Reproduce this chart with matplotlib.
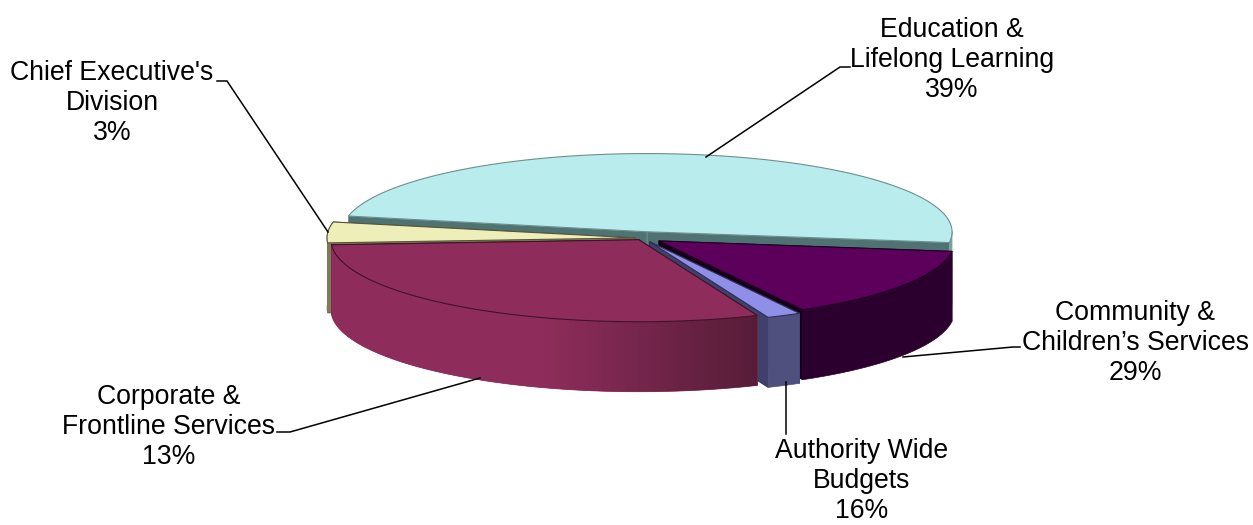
import numpy as np
import matplotlib
matplotlib.use("Agg")
import matplotlib.pyplot as plt
from matplotlib.patches import Polygon

# Sweep of each drawn slice (percent of the circle), clockwise from the start angle
slice_names = ["Education", "Community", "Authority", "Corporate", "Chief"]
slice_sweep = [48.9, 14.8, 1.8, 30.3, 4.2]
slice_explode = [0.08, 0.0626, 0.05, 0.025, 0.026]
slice_radius = [0.99, 0.96, 1.0, 1.0, 1.0]

# Printed captions
label_lines = [
    "Education &\nLifelong Learning\n39%",
    "Community &\nChildren\u2019s Services\n29%",
    "Authority Wide\nBudgets\n16%",
    "Corporate &\nFrontline Services\n13%",
    "Chief Executive's\nDivision\n3%",
]
label_xy = [(952, 60), (1135, 343), (862, 481), (169, 427), (112, 103)]
leaders = [
    [(706, 157), (840, 67), (850, 67)],
    [(903, 357), (1013, 347), (1020, 347)],
    [(786, 382), (786, 434)],
    [(480, 378), (290, 432), (277, 432)],
    [(328, 232), (227, 81), (217, 81)],
]

top_colors = ["#b9ecec", "#5c005c", "#8f8fe8", "#8e2d5b", "#eeeeb8"]
wall_colors = ["#7f9f9f", "#2b002e", "#50507f", "#8e2d5b", "#7d7d55"]
face_colors = ["#4f7272", "#150018", "#40406c", "#5a1e3a", "#7d7d55"]
edge_colors = ["#6f8f8f", "#1f0022", "#2f2f55", "#40122a", "#55553a"]

START = 168.4
CX, CY = 643.0, 238.0
A, B_BACK, B_FRONT = 308.0, 79.0, 82.0
DEPTH = 70.0


def project(deg, radius=1.0):
    """Map a circle angle to flat pie coordinates (pixels, y downward)."""
    t = np.radians(deg)
    s = np.sin(t) * radius
    return A * np.cos(t) * radius, -np.where(s > 0, B_BACK, B_FRONT) * s


fig = plt.figure(figsize=(12.53, 5.25), dpi=100, facecolor="white")
ax = fig.add_axes([0, 0, 1, 1])

# Clockwise angle ranges for each slice
bounds = START - np.cumsum([0] + slice_sweep) * 3.6
spans = {n: (bounds[i], bounds[i + 1], i) for i, n in enumerate(slice_names)}


def draw_slice(name, layer):
    a0, a1, i = spans[name]
    mid = np.radians((a0 + a1) / 2)
    ox = CX + slice_explode[i] * A * np.cos(mid)
    oy = CY - slice_explode[i] * (B_BACK if np.sin(mid) > 0 else B_FRONT) * np.sin(mid)
    ang = np.linspace(a0, a1, 200)
    x, y = project(ang, slice_radius[i])
    x, y = x + ox, y + oy

    # radial faces first; later surfaces cover whatever is hidden
    for k in (0, -1):
        ax.add_patch(Polygon([(ox, oy), (x[k], y[k]), (x[k], y[k] + DEPTH), (ox, oy + DEPTH)],
                             closed=True, fc=face_colors[i], ec=edge_colors[i], lw=0.6,
                             zorder=layer))

    # rim wall
    front = np.sin(np.radians(ang)) < 0.02 if name != "Chief" else np.ones_like(ang, bool)
    wx, wy = x[front], y[front]
    if wx.size > 1:
        outline = np.column_stack([np.r_[wx, wx[::-1]], np.r_[wy, wy[::-1] + DEPTH]])
        wall = Polygon(outline, closed=True, fc=wall_colors[i], ec=wall_colors[i], lw=0.5,
                       zorder=layer + 0.1)
        ax.add_patch(wall)
        if name == "Corporate":
            # horizontal shading towards the right-hand end of the rim
            cmap = matplotlib.colors.LinearSegmentedColormap.from_list(
                "rim", [(0, wall_colors[i]), (0.5, wall_colors[i]), (1, "#561d38")])
            grad = np.linspace(0, 1, 256)[None, :]
            img = ax.imshow(grad, cmap=cmap, aspect="auto", zorder=layer + 0.2,
                            extent=(wx.min(), wx.max(), wy.max() + DEPTH, wy.min()))
            img.set_clip_path(wall)

    # top surface
    ax.add_patch(Polygon(np.column_stack([np.r_[ox, x], np.r_[oy, y]]), closed=True,
                         fc=top_colors[i], ec=edge_colors[i], lw=0.8, zorder=layer + 0.5))


# Back to front, so each slice hides what lies behind it
for layer, name in enumerate(["Education", "Chief", "Community", "Authority", "Corporate"]):
    draw_slice(name, layer)

for pts in leaders:
    xs, ys = zip(*pts)
    ax.plot(xs, ys, color="black", lw=1.1, solid_joinstyle="miter", zorder=8)

for text, (tx, ty) in zip(label_lines, label_xy):
    ax.text(tx, ty, text, ha="center", va="center", color="black", fontsize=19.2,
            family="Liberation Sans", linespacing=1.22, zorder=9)

ax.set_xlim(0, 1253)
ax.set_ylim(525, 0)
ax.axis("off")

fig.savefig("out.png", dpi=100, facecolor="white")
